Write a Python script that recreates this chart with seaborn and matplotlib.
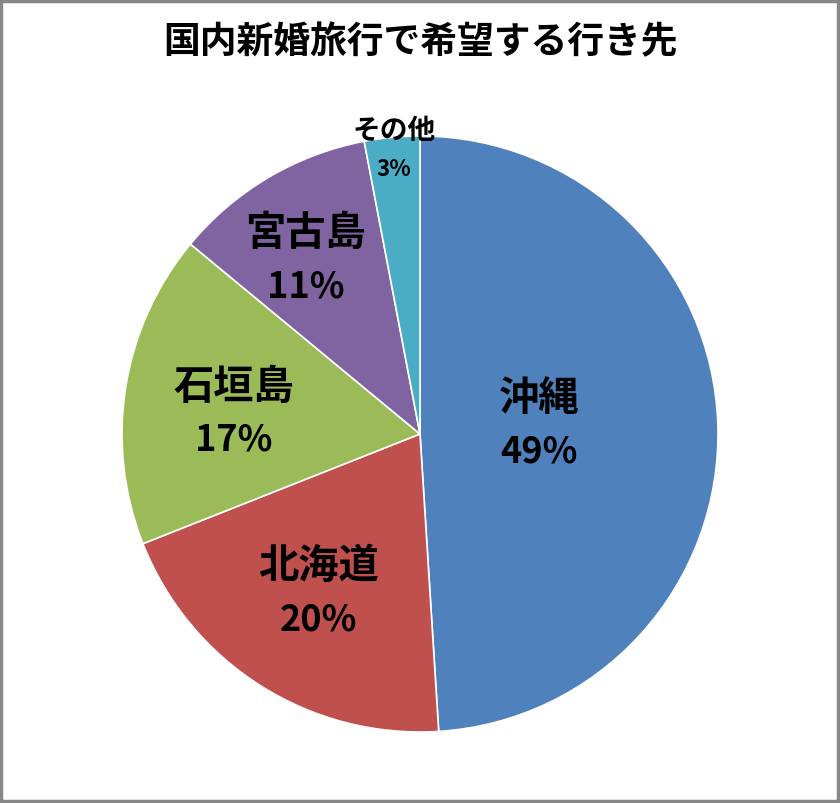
import matplotlib
matplotlib.use("Agg")
import matplotlib.pyplot as plt
import seaborn as sns
import numpy as np
from matplotlib.patches import Rectangle

# ---- data ----
title = "国内新婚旅行で希望する行き先"
categories = ["沖縄", "北海道", "石垣島", "宮古島", "その他"]
values = [49, 20, 17, 11, 3]
pct_labels = ["49%", "20%", "17%", "11%", "3%"]

# ---- style ----
colors = ["#4F81BD", "#C0504D", "#9BBB59", "#8064A2", "#4BACC6"]
label_radius = [0.40, 0.63, 0.63, 0.70, 0.96]
label_angle_shift = [3.0, -0.4, 2.5, 2.6, -0.2]
name_size = [29, 29, 29, 29, 20]
pct_size = [26, 26, 26, 26, 16]
line_gap = [0.090, 0.090, 0.088, 0.090, 0.066]

sns.set_theme(style="white")
plt.rcParams["font.family"] = ["Noto Sans CJK JP", "DejaVu Sans"]

fig = plt.figure(figsize=(8.4, 8.04), dpi=100)
fig.patch.set_facecolor("white")

R = 298
cx, cy = 420, 435
W, H = 840, 804
ax = fig.add_axes([(cx - R) / W, (H - cy - R) / H, 2 * R / W, 2 * R / H])

wedges, _ = ax.pie(values, colors=colors, startangle=90, counterclock=False,
                   radius=1.0,
                   wedgeprops=dict(edgecolor="white", linewidth=1.2))
ax.set_xlim(-1, 1)
ax.set_ylim(-1, 1)
ax.set_aspect("equal")
ax.axis("off")

for i, w in enumerate(wedges):
    mid = np.deg2rad((w.theta1 + w.theta2) / 2 + label_angle_shift[i])
    x = label_radius[i] * np.cos(mid)
    y = label_radius[i] * np.sin(mid)
    ax.text(x, y + line_gap[i], categories[i], ha="center", va="center",
            fontsize=name_size[i], fontweight="bold", color="black")
    ax.text(x, y - line_gap[i], pct_labels[i], ha="center", va="center",
            fontsize=pct_size[i], fontweight="bold", color="black")

fig.text(0.5, 1 - 43 / H, title, ha="center", va="center",
         fontsize=26.5, fontweight="bold", color="black")

fig.patches.append(Rectangle((0.001, 0.002), 0.997, 0.996, transform=fig.transFigure,
                             fill=False, edgecolor="#878787", linewidth=2.5))

fig.savefig("out.png", dpi=100, facecolor="white")
